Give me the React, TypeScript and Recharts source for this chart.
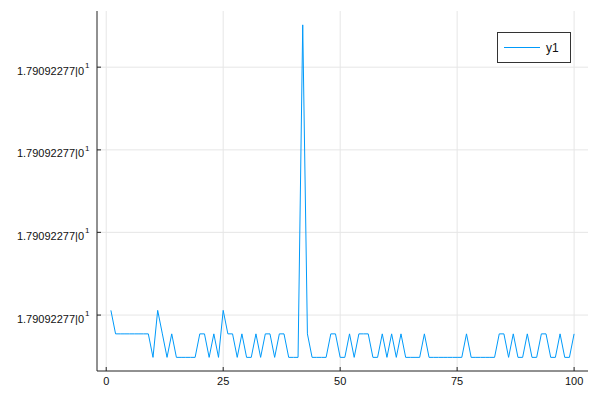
import React from 'react';
import { LineChart, Line, XAxis, YAxis, CartesianGrid } from 'recharts';

const seriesName = 'y1';
const seriesColor = '#009AFA';

// y values in relative units (0 = lowest level); x = 1..100
const yValues: number[] = [
  2, 1, 1, 1, 1, 1, 1, 1, 1, 0,
  2, 1, 0, 1, 0, 0, 0, 0, 0, 1,
  1, 0, 1, 0, 2, 1, 1, 0, 1, 0,
  0, 1, 0, 1, 1, 0, 1, 1, 0, 0,
  0, 14.15, 1, 0, 0, 0, 0, 1, 1, 0,
  0, 1, 0, 1, 1, 1, 0, 0, 1, 0,
  1, 0, 1, 0, 0, 0, 0, 1, 0, 0,
  0, 0, 0, 0, 0, 0, 1, 0, 0, 0,
  0, 0, 0, 1, 1, 0, 1, 0, 0, 1,
  0, 0, 1, 1, 0, 0, 1, 0, 0, 1,
];

const xTicks = [0, 25, 50, 75, 100];
const yTickPositions = [1.8, 5.32, 8.83, 12.35];
const yTickMantissa = ['1.79092277|0', '1.79092277|0', '1.79092277|0', '1.79092277|0'];
const yTickExponent = ['1', '1', '1', '1'];
const xDomain: [number, number] = [-1.97, 102.97];
const yDomain: [number, number] = [-0.58, 14.74];

const data = yValues.map((y, i) => ({ x: i + 1, y }));

const FONT = '"Liberation Sans", Arial, sans-serif';

const YTick = (props: any) => {
  const { x, y, payload } = props;
  const idx = yTickPositions.indexOf(payload.value);
  return (
    <g>
      <line x1={x} x2={x + 4} y1={y} y2={y} stroke="#222" strokeWidth={1} />
      <text x={x - 13} y={y + 7.5} textAnchor="end" fontSize={11} fill="#111" fontFamily={FONT}>
        {yTickMantissa[idx]}
      </text>
      <text x={x - 12} y={y + 1} textAnchor="start" fontSize={8} fill="#111" fontFamily={FONT}>
        {yTickExponent[idx]}
      </text>
    </g>
  );
};

const XTick = (props: any) => {
  const { x, y, payload } = props;
  return (
    <g>
      <line x1={x} x2={x} y1={y} y2={y - 4} stroke="#222" strokeWidth={1} />
      <text x={x} y={y + 14} textAnchor="middle" fontSize={11} fill="#111" fontFamily={FONT}>
        {payload.value}
      </text>
    </g>
  );
};

export default function App() {
  return (
    <div style={{ position: 'absolute', left: 0, top: 0, width: 600, height: 400, background: '#fff' }}>
      <LineChart
        width={600}
        height={400}
        data={data}
        margin={{ top: 11, right: 12, bottom: 0, left: 0 }}
      >
        <CartesianGrid
          stroke="#e6e6e6"
          strokeWidth={1}
          horizontalValues={yTickPositions}
          verticalValues={xTicks}
        />
        <XAxis
          dataKey="x"
          type="number"
          domain={xDomain}
          ticks={xTicks}
          allowDataOverflow
          height={29}
          tickSize={0}
          tickMargin={0}
          tickLine={false}
          interval={0}
          axisLine={{ stroke: '#222', strokeWidth: 1 }}
          tick={<XTick />}
        />
        <YAxis
          dataKey="y"
          type="number"
          domain={yDomain}
          ticks={yTickPositions}
          allowDataOverflow
          width={97}
          tickSize={0}
          tickMargin={0}
          tickLine={false}
          interval={0}
          axisLine={{ stroke: '#222', strokeWidth: 1 }}
          tick={<YTick />}
        />
        <Line
          type="linear"
          dataKey="y"
          name={seriesName}
          stroke={seriesColor}
          strokeWidth={1}
          dot={false}
          isAnimationActive={false}
        />
      </LineChart>
      <div
        style={{
          position: 'absolute',
          left: 497,
          top: 32,
          width: 72,
          height: 29,
          border: '1px solid #333',
          background: '#fff',
          boxSizing: 'content-box',
        }}
      >
        <svg width={72} height={29} style={{ display: 'block' }}>
          <line x1={6} x2={42} y1={14.5} y2={14.5} stroke={seriesColor} strokeWidth={1} />
          <text x={48} y={19} fontSize={12} fill="#111" fontFamily={FONT}>
            {seriesName}
          </text>
        </svg>
      </div>
    </div>
  );
}
